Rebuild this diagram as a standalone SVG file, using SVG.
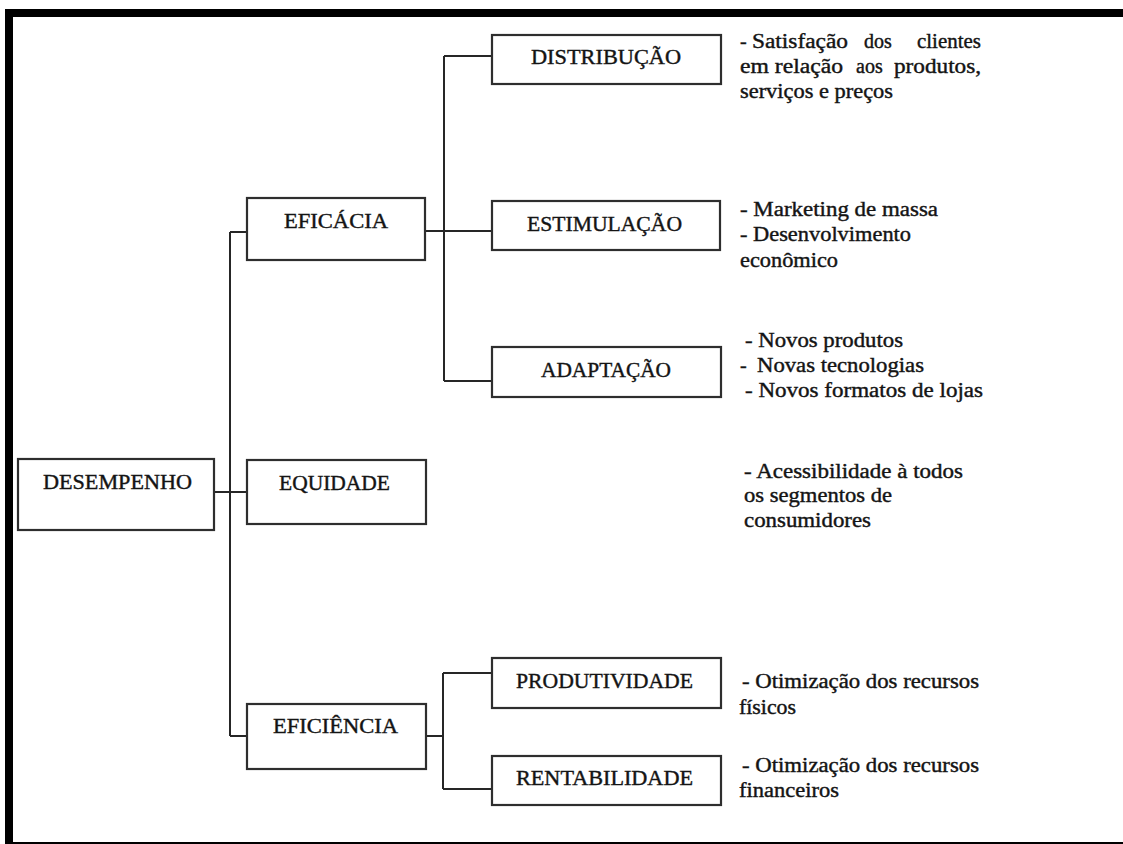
<svg xmlns="http://www.w3.org/2000/svg" width="1123" height="844" viewBox="0 0 1123 844">
<style>
.box{fill:#fff;stroke:#2e2e2e;stroke-width:2.2}
.lbl{font-family:"Liberation Serif","Times New Roman",serif;font-size:21px;fill:#141414;stroke:#141414;stroke-width:0.4}
.note{font-family:"Liberation Serif","Times New Roman",serif;font-size:20px;fill:#141414;stroke:#141414;stroke-width:0.4}
.conn{stroke:#262626;stroke-width:2;fill:none}
</style>
<rect width="1123" height="844" fill="#fff"/>
<g id="frame">
<rect x="5" y="9" width="1118" height="8" fill="#000"/>
<rect x="5" y="9" width="8" height="835" fill="#000"/>
<rect x="5" y="842" width="1118" height="2" fill="#000"/>
</g>
<g id="connectors">
<path class="conn" d="M214 492H247"/>
<path class="conn" d="M230 232V736"/>
<path class="conn" d="M230 232H247"/>
<path class="conn" d="M230 736H247"/>
<path class="conn" d="M425 231H492"/>
<path class="conn" d="M444 56V381"/>
<path class="conn" d="M444 56H492"/>
<path class="conn" d="M444 381H492"/>
<path class="conn" d="M426 736H443"/>
<path class="conn" d="M443 673V789"/>
<path class="conn" d="M443 673H492"/>
<path class="conn" d="M443 789H492"/>
</g>
<g id="desempenho">
<rect class="box" x="18" y="459" width="196" height="71"/>
<text class="lbl" x="43" y="489" textLength="149" lengthAdjust="spacingAndGlyphs">DESEMPENHO</text>
</g>
<g id="eficacia">
<rect class="box" x="247" y="198" width="178" height="62"/>
<text class="lbl" x="284" y="228" textLength="104" lengthAdjust="spacingAndGlyphs">EFICÁCIA</text>
</g>
<g id="equidade">
<rect class="box" x="247" y="460" width="179" height="64"/>
<text class="lbl" x="279" y="490" textLength="111" lengthAdjust="spacingAndGlyphs">EQUIDADE</text>
</g>
<g id="eficiencia">
<rect class="box" x="247" y="704" width="179" height="65"/>
<text class="lbl" x="273" y="733" textLength="125" lengthAdjust="spacingAndGlyphs">EFICIÊNCIA</text>
</g>
<g id="distribuicao">
<rect class="box" x="492" y="35" width="229" height="49"/>
<text class="lbl" x="531" y="64" textLength="150" lengthAdjust="spacingAndGlyphs">DISTRIBUÇÃO</text>
</g>
<g id="estimulacao">
<rect class="box" x="492" y="201" width="228" height="49"/>
<text class="lbl" x="527" y="231" textLength="155" lengthAdjust="spacingAndGlyphs">ESTIMULAÇÃO</text>
</g>
<g id="adaptacao">
<rect class="box" x="492" y="347" width="229" height="50"/>
<text class="lbl" x="541" y="377" textLength="130" lengthAdjust="spacingAndGlyphs">ADAPTAÇÃO</text>
</g>
<g id="produtividade">
<rect class="box" x="492" y="658" width="229" height="50"/>
<text class="lbl" x="516" y="688" textLength="177" lengthAdjust="spacingAndGlyphs">PRODUTIVIDADE</text>
</g>
<g id="rentabilidade">
<rect class="box" x="492" y="756" width="229" height="49"/>
<text class="lbl" x="516" y="785" textLength="177" lengthAdjust="spacingAndGlyphs">RENTABILIDADE</text>
</g>
<g id="notes">
<text class="note" y="48"><tspan x="740">-</tspan> <tspan x="752" textLength="96" lengthAdjust="spacingAndGlyphs">Satisfação</tspan> <tspan x="864">dos</tspan> <tspan x="917" textLength="64" lengthAdjust="spacingAndGlyphs">clientes</tspan></text>
<text class="note" y="73"><tspan x="740" textLength="103" lengthAdjust="spacingAndGlyphs">em relação</tspan> <tspan x="856">aos</tspan> <tspan x="894" textLength="87" lengthAdjust="spacingAndGlyphs">produtos,</tspan></text>
<text class="note" x="740" y="98" textLength="153" lengthAdjust="spacingAndGlyphs">serviços e preços</text>
<text class="note" x="740" y="216" textLength="198" lengthAdjust="spacingAndGlyphs">- Marketing de massa</text>
<text class="note" x="740" y="241" textLength="171" lengthAdjust="spacingAndGlyphs">- Desenvolvimento</text>
<text class="note" x="740" y="267" textLength="98" lengthAdjust="spacingAndGlyphs">econômico</text>
<text class="note" x="745" y="347" textLength="158" lengthAdjust="spacingAndGlyphs">- Novos produtos</text>
<text class="note" y="372"><tspan x="740">-</tspan> <tspan x="757" textLength="167" lengthAdjust="spacingAndGlyphs">Novas tecnologias</tspan></text>
<text class="note" x="745" y="397" textLength="238" lengthAdjust="spacingAndGlyphs">- Novos formatos de lojas</text>
<text class="note" x="744" y="478" textLength="219" lengthAdjust="spacingAndGlyphs">- Acessibilidade à todos</text>
<text class="note" x="744" y="502" textLength="148" lengthAdjust="spacingAndGlyphs">os segmentos de</text>
<text class="note" x="744" y="527" textLength="127" lengthAdjust="spacingAndGlyphs">consumidores</text>
<text class="note" x="742" y="688" textLength="237" lengthAdjust="spacingAndGlyphs">- Otimização dos recursos</text>
<text class="note" x="739" y="714" textLength="57" lengthAdjust="spacingAndGlyphs">físicos</text>
<text class="note" x="742" y="772" textLength="237" lengthAdjust="spacingAndGlyphs">- Otimização dos recursos</text>
<text class="note" x="739" y="797" textLength="100" lengthAdjust="spacingAndGlyphs">financeiros</text>
</g>
</svg>
